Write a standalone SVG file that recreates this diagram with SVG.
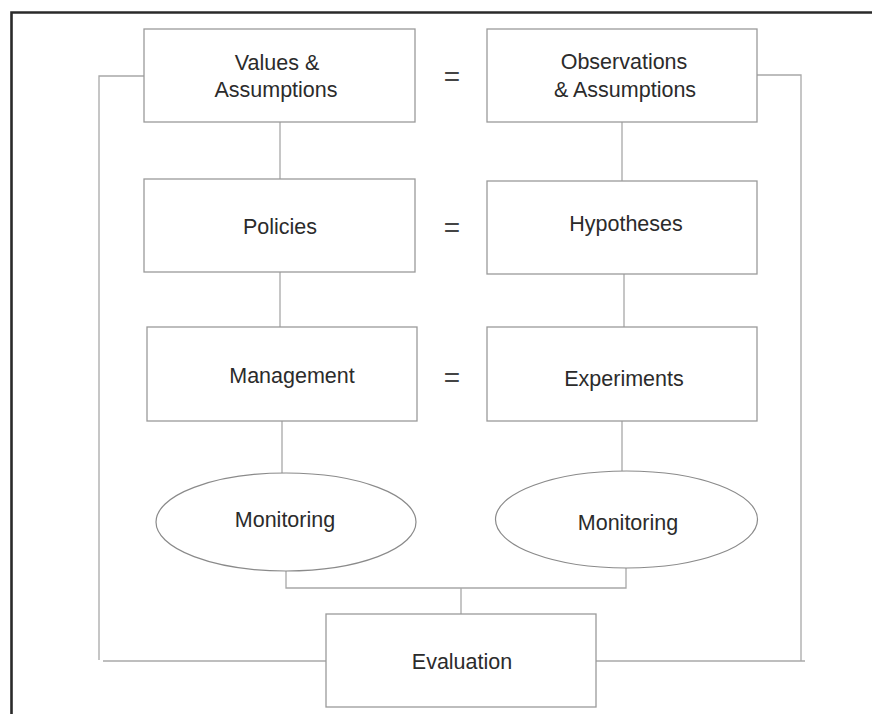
<svg xmlns="http://www.w3.org/2000/svg" width="872" height="714" viewBox="0 0 872 714">
<style>
.box{fill:#fff;stroke:#9a9a9a;stroke-width:1.3}
.ell{fill:#fff;stroke:#8a8a8a;stroke-width:1.2}
.con{fill:none;stroke:#a8a8a8;stroke-width:1.3}
.frame{fill:none;stroke:#2a2a2a;stroke-width:2.6}
text{font-family:"Liberation Sans","DejaVu Sans",sans-serif;font-size:21.5px;fill:#2b2b2b;text-anchor:middle}
text.eq{font-size:28px;fill:#444}
</style>
<rect width="872" height="714" fill="#fff"/>
<path class="frame" d="M11.5,714 V12.5 H872"/>
<g id="connectors">
<path class="con" d="M280,122 V179"/>
<path class="con" d="M280,272 V327"/>
<path class="con" d="M282,421 V473"/>
<path class="con" d="M622,122 V181"/>
<path class="con" d="M624,274 V327"/>
<path class="con" d="M622,421 V471"/>
<path class="con" d="M286,571 V588 H626 V568"/>
<path class="con" d="M461,588 V614"/>
<path class="con" d="M144,76 H99 V660"/>
<path class="con" d="M103,661 H326"/>
<path class="con" d="M757,75 H801 V661"/>
<path class="con" d="M596,661 H805"/>
</g>
<g id="values">
<rect class="box" x="144" y="29" width="271" height="93"/>
<text x="277" y="70">Values &amp;</text>
<text x="276" y="97">Assumptions</text>
</g>
<g id="observations">
<rect class="box" x="487" y="29" width="270" height="93"/>
<text x="624" y="69">Observations</text>
<text x="625" y="97">&amp; Assumptions</text>
</g>
<g id="eq1"><text class="eq" x="452" y="86">=</text></g>
<g id="policies">
<rect class="box" x="144" y="179" width="271" height="93"/>
<text x="280" y="234">Policies</text>
</g>
<g id="hypotheses">
<rect class="box" x="487" y="181" width="270" height="93"/>
<text x="626" y="231">Hypotheses</text>
</g>
<g id="eq2"><text class="eq" x="452" y="237">=</text></g>
<g id="management">
<rect class="box" x="147" y="327" width="270" height="94"/>
<text x="292" y="383">Management</text>
</g>
<g id="experiments">
<rect class="box" x="487" y="327" width="270" height="94"/>
<text x="624" y="386">Experiments</text>
</g>
<g id="eq3"><text class="eq" x="452" y="387">=</text></g>
<g id="monitoring-left">
<ellipse class="ell" cx="286" cy="522" rx="130" ry="49"/>
<text x="285" y="527">Monitoring</text>
</g>
<g id="monitoring-right">
<ellipse class="ell" cx="626.5" cy="519.5" rx="131" ry="48.5"/>
<text x="628" y="530">Monitoring</text>
</g>
<g id="evaluation">
<rect class="box" x="326" y="614" width="270" height="93"/>
<text x="462" y="669">Evaluation</text>
</g>
</svg>
